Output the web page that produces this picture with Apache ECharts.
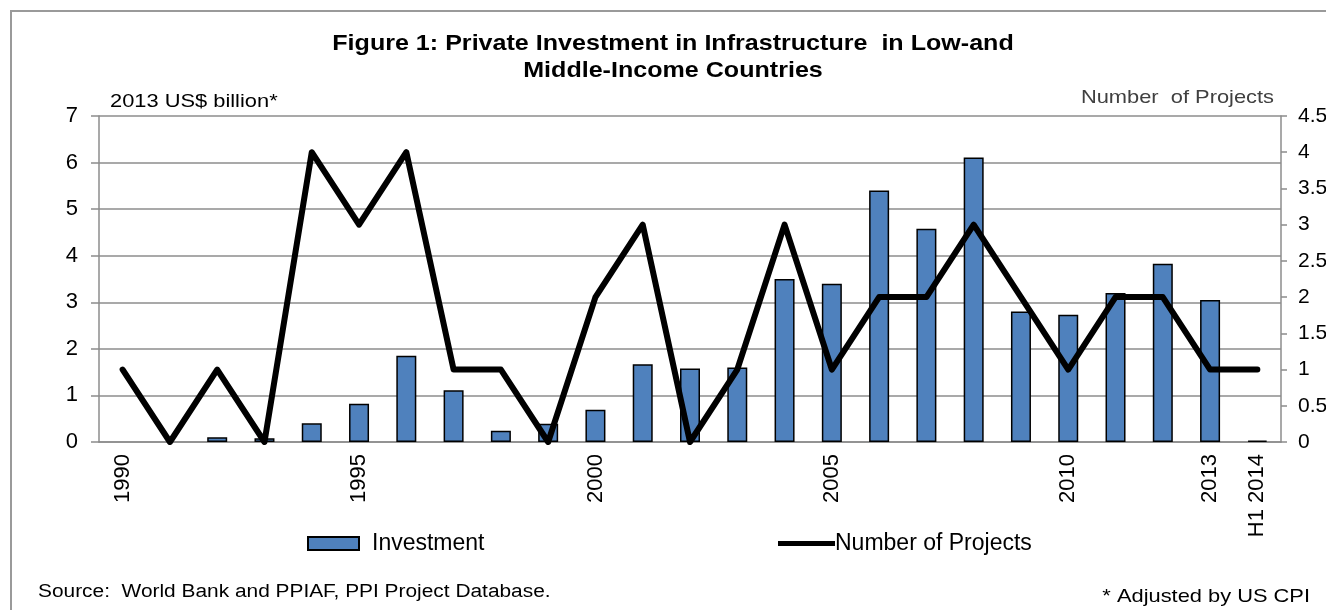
<!DOCTYPE html>
<html>
<head>
<meta charset="utf-8">
<script src="https://cdn.jsdelivr.net/npm/echarts@6/dist/echarts.min.js"></script>
<style>
  html, body { margin: 0; padding: 0; background: #ffffff; }
  #chart { width: 1326px; height: 610px; }
</style>
</head>
<body>
<div id="chart"></div>
<script>
// ---- data ----
const categories = ['1990','1991','1992','1993','1994','1995','1996','1997','1998','1999',
  '2000','2001','2002','2003','2004','2005','2006','2007','2008','2009',
  '2010','2011','2012','2013','H1 2014'];
const investment = [0, 0, 0.10, 0.08, 0.40, 0.82, 1.85, 1.11, 0.24, 0.39,
  0.69, 1.67, 1.58, 1.60, 3.50, 3.40, 5.40, 4.58, 6.11, 2.80,
  2.73, 3.20, 3.83, 3.05, 0.03];
const projects = [1, 0, 1, 0, 4, 3, 4, 1, 1, 0,
  2, 3, 0, 1, 3, 1, 2, 2, 3, 2,
  1, 2, 2, 1, 1];
const shownXLabels = ['1990','1995','2000','2005','2010','2013','H1 2014'];
const leftTicks = { min: 0, max: 7, interval: 1 };
const rightTicks = { min: 0, max: 4.5, interval: 0.5 };

const FONT = 'Liberation Sans, Arial, sans-serif';
const chart = echarts.init(document.getElementById('chart'), null, { renderer: 'canvas' });

// zero-valued years are drawn without a bar (as in the source)
const barData = investment.map(v => v === 0 ? null : v);

const option = {
  backgroundColor: '#ffffff',
  animation: false,
  textStyle: { fontFamily: FONT },
  grid: { left: 99, right: 45, top: 116, bottom: 168, containLabel: false, outerBoundsMode: 'none' },
  legend: [
    {
      data: [{ name: 'Investment', icon: 'rect' }], left: 302, top: 527, itemWidth: 51, itemHeight: 13,
      padding: 5,
      textStyle: { fontFamily: FONT, fontSize: 23, color: '#000', padding: [0, 0, 0, 8] },
      selectedMode: false
    },
    {
      data: [{ name: 'Number of Projects', icon: 'rect' }], left: 773, top: 527, itemWidth: 57, itemHeight: 5,
      padding: 5,
      textStyle: { fontFamily: FONT, fontSize: 23, color: '#000', padding: [0, 0, 0, -5] },
      selectedMode: false
    }
  ],
  xAxis: {
    type: 'category',
    data: categories,
    axisLine: { show: true, lineStyle: { color: '#8c8c8c', width: 1.5 } },
    axisTick: { show: false },
    axisLabel: {
      interval: 0, rotate: 90, margin: 12, fontSize: 22, color: '#000', fontFamily: FONT,
      formatter: v => shownXLabels.indexOf(v) >= 0 ? v : ''
    },
    splitLine: { show: false }
  },
  yAxis: [
    {
      type: 'value', min: leftTicks.min, max: leftTicks.max, interval: leftTicks.interval,
      axisLine: { show: true, lineStyle: { color: '#8c8c8c', width: 1.5 } },
      axisTick: { show: true, length: 8, lineStyle: { color: '#8c8c8c', width: 1.5 } },
      axisLabel: { margin: 21, fontSize: 22, color: '#000', fontFamily: FONT },
      splitLine: { show: true, lineStyle: { color: '#8c8c8c', width: 1.5 } }
    },
    {
      type: 'value', min: rightTicks.min, max: rightTicks.max, interval: rightTicks.interval,
      position: 'right',
      axisLine: { show: true, lineStyle: { color: '#8c8c8c', width: 1.5 } },
      axisTick: { show: true, length: 6, lineStyle: { color: '#8c8c8c', width: 1.5 } },
      axisLabel: { margin: 17, fontSize: 21, color: '#000', fontFamily: FONT },
      splitLine: { show: false }
    }
  ],
  series: [
    {
      name: 'Investment', type: 'bar', data: barData, yAxisIndex: 0,
      barWidth: 20,
      itemStyle: { color: '#4F81BD', borderColor: '#000', borderWidth: 1.5 },
      z: 2
    },
    {
      name: 'Number of Projects', type: 'line', data: projects, yAxisIndex: 1,
      symbol: 'none', showSymbol: false,
      lineStyle: { color: '#000', width: 6, cap: 'round', join: 'round' },
      itemStyle: { color: '#000' },
      z: 3
    }
  ],
  graphic: [
    { type: 'rect', shape: { x: 11, y: 11, width: 1400, height: 700 },
      style: { fill: 'none', stroke: '#9a9a9a', lineWidth: 2 }, silent: true },
    { type: 'text', x: 673, y: 44, scaleX: 1.14,
      style: { text: 'Figure 1: Private Investment in Infrastructure  in Low-and', font: 'bold 22px ' + FONT,
        fill: '#000', textAlign: 'center', textVerticalAlign: 'middle' } },
    { type: 'text', x: 673, y: 71, scaleX: 1.14,
      style: { text: 'Middle-Income Countries', font: 'bold 22px ' + FONT,
        fill: '#000', textAlign: 'center', textVerticalAlign: 'middle' } },
    { type: 'text', x: 110, y: 102, scaleX: 1.15,
      style: { text: '2013 US$ billion*', font: '19px ' + FONT, fill: '#000',
        textAlign: 'left', textVerticalAlign: 'middle' } },
    { type: 'text', x: 1274, y: 98, scaleX: 1.15,
      style: { text: 'Number  of Projects', font: '19px ' + FONT, fill: '#404040',
        textAlign: 'right', textVerticalAlign: 'middle' } },
    { type: 'text', x: 38, y: 592, scaleX: 1.16,
      style: { text: 'Source:  World Bank and PPIAF, PPI Project Database.', font: '18px ' + FONT, fill: '#000',
        textAlign: 'left', textVerticalAlign: 'middle' } },
    { type: 'text', x: 1310, y: 597, scaleX: 1.15,
      style: { text: '* Adjusted by US CPI', font: '19px ' + FONT, fill: '#000',
        textAlign: 'right', textVerticalAlign: 'middle' } }
  ]
};
chart.setOption(option);
</script>
</body>
</html>
